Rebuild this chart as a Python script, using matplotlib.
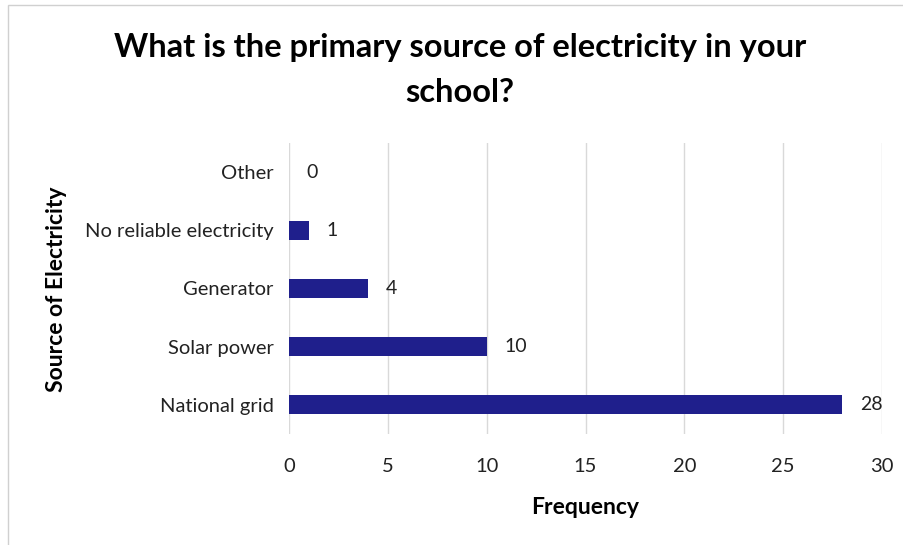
import matplotlib.pyplot as plt
from matplotlib.patches import Rectangle

categories = ['National grid', 'Solar power', 'Generator', 'No reliable electricity', 'Other']
frequency = [28, 10, 4, 1, 0]

plt.rcParams['font.family'] = ['Lato', 'DejaVu Sans']

fig = plt.figure(figsize=(9.04, 5.45), dpi=100)
ax = fig.add_axes([0.3197, 0.2037, 0.656, 0.534])

bars = ax.barh(categories, frequency, height=0.33, color='#1f1f8c', zorder=3)
for bar, val in zip(bars, frequency):
    ax.text(bar.get_width() + 0.9, bar.get_y() + bar.get_height() / 2, str(val),
            va='center', ha='left', fontsize=14, color='#222222')

ax.set_xlim(0, 30)
ax.set_ylim(-0.5, 4.5)
ax.set_xticks(range(0, 31, 5))
ax.grid(axis='x', color='#d9d9d9', linewidth=1, zorder=0)
for s in ax.spines.values():
    s.set_visible(False)
ax.tick_params(axis='both', length=0, labelsize=14.5, colors='#222222')
ax.tick_params(axis='x', pad=17)
ax.tick_params(axis='y', pad=11)

ax.set_xlabel('Frequency', fontsize=16.5, fontweight='bold', labelpad=16)
fig.text(0.063, 0.47, 'Source of Electricity', rotation=90, fontsize=16.5,
         fontweight='bold', ha='center', va='center')

fig.text(0.509, 0.912, 'What is the primary source of electricity in your',
         ha='center', va='center', fontsize=23.5, fontweight='bold')
fig.text(0.509, 0.831, 'school?', ha='center', va='center', fontsize=23.5, fontweight='bold')

# thin frame around the chart area
fig.patches.append(Rectangle((0.009, -0.01), 1.0, 1.0, transform=fig.transFigure,
                             fill=False, edgecolor='#d0d0d0', linewidth=1))

fig.savefig('out.png', dpi=100)
